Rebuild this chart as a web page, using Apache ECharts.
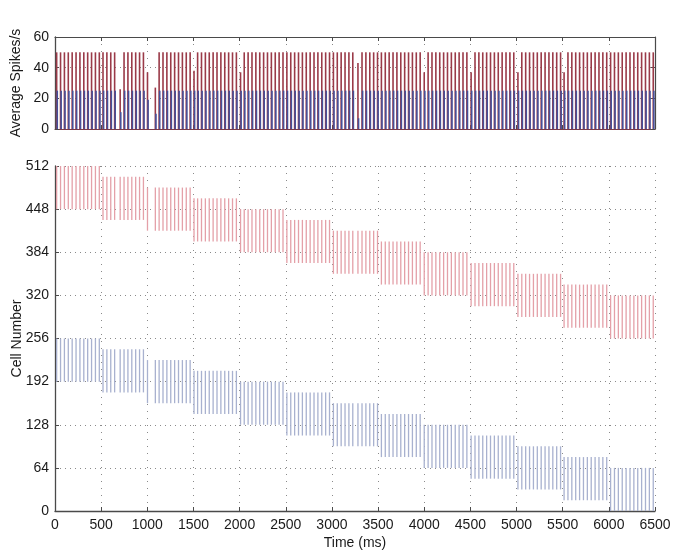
<!DOCTYPE html>
<html><head><meta charset="utf-8">
<script src="https://cdn.jsdelivr.net/npm/echarts@6/dist/echarts.min.js"></script>
<style>html,body{margin:0;padding:0;background:#fff}#c{width:676px;height:552px}</style>
</head><body><div id="c"></div>
<script>
// Spike (bar) times in ms
const spikeTimes = [18,60,102,144,186,228,270,312,354,396,438,480,520,562,604,646,706,748,790,832,874,916,958,1002,1087,1128,1170,1212,1254,1296,1338,1380,1422,1464,1506,1545,1587,1629,1671,1713,1755,1797,1839,1881,1923,1965,2010,2050,2092,2134,2176,2218,2260,2302,2344,2386,2428,2470,2512,2554,2596,2638,2680,2722,2764,2806,2848,2890,2932,2974,3016,3058,3100,3142,3184,3226,3282,3326,3368,3410,3452,3494,3536,3578,3620,3662,3704,3746,3788,3830,3872,3914,3956,4000,4042,4084,4126,4168,4210,4252,4294,4336,4378,4420,4462,4508,4550,4592,4634,4676,4718,4760,4802,4844,4886,4928,4970,5015,5057,5099,5141,5183,5225,5267,5309,5351,5393,5435,5477,5515,5557,5599,5641,5683,5725,5767,5809,5851,5893,5935,5977,6019,6061,6103,6145,6187,6229,6271,6313,6355,6397,6439,6481];
// Average spikes/s of the red population at each spike time
const redRate = [50,50,50,50,50,50,50,50,50,50,50,50,50,50,50,50,26,50,50,50,50,50,50,37,27,50,50,50,50,50,50,50,50,50,38,50,50,50,50,50,50,50,50,50,50,50,37,50,50,50,50,50,50,50,50,50,50,50,50,50,50,50,50,50,50,50,50,50,50,50,50,50,50,50,50,50,43,50,50,50,50,50,50,50,50,50,50,50,50,50,50,50,50,37,50,50,50,50,50,50,50,50,50,50,50,37,50,50,50,50,50,50,50,50,50,50,50,37,50,50,50,50,50,50,50,50,50,50,50,37,50,50,50,50,50,50,50,50,50,50,50,50,50,50,50,50,50,50,50,50,50,50,50];
// Average spikes/s of the blue population at each spike time
const blueRate = [25,25,25,25,25,25,25,25,25,25,25,25,25,25,25,25,11,25,25,25,25,25,25,19,10,25,25,25,25,25,25,25,25,25,25,25,25,25,25,25,25,25,25,25,25,25,25,25,25,25,25,25,25,25,25,25,25,25,25,25,25,25,25,25,25,25,25,25,25,25,25,25,25,25,25,25,7,25,25,25,25,25,25,25,25,25,25,25,25,25,25,25,25,25,25,25,25,25,25,25,25,25,25,25,25,25,25,25,25,25,25,25,25,25,25,25,25,25,25,25,25,25,25,25,25,25,25,25,25,25,25,25,25,25,25,25,25,25,25,25,25,25,25,25,25,25,25,25,25,25,25,25,25];
// Stimulation blocks: start time and active cell ranges
const blockStarts = [0,500,1000,1500,2000,2500,3000,3500,4000,4500,5000,5500,6000];
const redLo  = [448,432,416,400,384,368,352,336,320,304,288,272,256];
const redHi  = [512,496,480,464,448,432,416,400,384,368,352,336,320];
const blueLo = [192,176,160,144,128,112,96,80,64,48,32,16,0];
const blueHi = [256,240,224,208,192,176,160,144,128,112,96,80,64];
// Axis ranges
const timeRange = [0, 6500, 500];
const rateRange = [0, 60, 20];
const cellRange = [0, 512, 64];

function blockOf(t){
  let k = 0;
  for (let i = 0; i < blockStarts.length; i++) if (t >= blockStarts[i]) k = i;
  return k;
}
const redRaster = spikeTimes.map(t => { const k = blockOf(t); return [t, redLo[k], redHi[k]]; });
const blueRaster = spikeTimes.map(t => { const k = blockOf(t); return [t, blueLo[k], blueHi[k]]; });
const redBars = spikeTimes.map((t,i) => [t, redRate[i]]);
const blueBars = spikeTimes.map((t,i) => [t, blueRate[i]]);

function barRender(color, dx, w){
  return function(params, api){
    const p0 = api.coord([api.value(0), 0]);
    const p1 = api.coord([api.value(0), api.value(1)]);
    return {type:'line', shape:{x1:p0[0]+dx, y1:p0[1], x2:p1[0]+dx, y2:p1[1]},
      style:{stroke:color, lineWidth:w}};
  };
}
function rasterRender(color){
  return function(params, api){
    const p0 = api.coord([api.value(0), api.value(1)]);
    const p1 = api.coord([api.value(0), api.value(2)]);
    return {type:'line', shape:{x1:p0[0], y1:p0[1], x2:p1[0], y2:p1[1]},
      style:{stroke:color, lineWidth:1.3}};
  };
}

const FONT = 'Liberation Sans, Arial, Helvetica, sans-serif';
const axisCol = '#4a4a4a';
const dotX = {show:true, lineStyle:{color:'#8a8a8a', width:1, type:[1,6]}};
const dotY = {show:true, lineStyle:{color:'#8a8a8a', width:1, type:[1,4]}};
const fmt = v => String(v);
const lab = {color:'#1a1a1a', fontSize:14, fontFamily:FONT, formatter:fmt};

const chart = echarts.init(document.getElementById('c'), null, {renderer:'canvas'});
chart.setOption({
  animation:false,
  backgroundColor:'#fff',
  grid:[
    {left:55, right:21, top:37, height:92, containLabel:false, outerBoundsMode:'none'},
    {left:55, right:21, top:166, height:345, containLabel:false, outerBoundsMode:'none'}
  ],
  xAxis:[
    {gridIndex:0, type:'value', min:timeRange[0], max:timeRange[1], interval:timeRange[2],
     axisLine:{show:true, onZero:false, lineStyle:{color:'#7a3a48', width:1.2}},
     axisTick:{show:true, inside:true, length:4, lineStyle:{color:axisCol}},
     axisLabel:{show:false}, splitLine:dotX},
    {gridIndex:0, type:'value', position:'top', min:timeRange[0], max:timeRange[1], interval:timeRange[2],
     axisLine:{show:true, onZero:false, lineStyle:{color:axisCol, width:1.2}},
     axisTick:{show:true, inside:true, length:4, lineStyle:{color:axisCol}},
     axisLabel:{show:false}, splitLine:{show:false}},
    {gridIndex:1, type:'value', min:timeRange[0], max:timeRange[1], interval:timeRange[2],
     name:'Time (ms)', nameLocation:'middle', nameGap:25, nameMoveOverlap:false,
     nameTextStyle:{color:'#1a1a1a', fontSize:14, fontFamily:FONT},
     axisLine:{show:true, onZero:false, lineStyle:{color:axisCol, width:1.3}},
     axisTick:{show:true, inside:true, length:4, lineStyle:{color:axisCol}},
     axisLabel:Object.assign({margin:7}, lab), splitLine:dotX}
  ],
  yAxis:[
    {gridIndex:0, type:'value', min:rateRange[0], max:rateRange[1], interval:rateRange[2],
     name:'Average Spikes/s', nameLocation:'middle', nameGap:32, nameRotate:90, nameMoveOverlap:false,
     nameTextStyle:{color:'#1a1a1a', fontSize:14, fontFamily:FONT},
     axisLine:{show:true, onZero:false, lineStyle:{color:axisCol, width:1.3}},
     axisTick:{show:true, inside:true, length:4, lineStyle:{color:axisCol}},
     axisLabel:Object.assign({margin:6}, lab), splitLine:dotY},
    {gridIndex:0, type:'value', position:'right', min:rateRange[0], max:rateRange[1], interval:rateRange[2],
     axisLine:{show:true, onZero:false, lineStyle:{color:axisCol, width:1.2}},
     axisTick:{show:true, inside:true, length:4, lineStyle:{color:axisCol}},
     axisLabel:{show:false}, splitLine:{show:false}},
    {gridIndex:1, type:'value', min:cellRange[0], max:cellRange[1], interval:cellRange[2],
     name:'Cell Number', nameLocation:'middle', nameGap:31, nameRotate:90, nameMoveOverlap:false,
     nameTextStyle:{color:'#1a1a1a', fontSize:14, fontFamily:FONT},
     axisLine:{show:true, onZero:false, lineStyle:{color:axisCol, width:1.3}},
     axisTick:{show:true, inside:true, length:4, lineStyle:{color:axisCol}},
     axisLabel:Object.assign({margin:6}, lab), splitLine:dotY}
  ],
  series:[
    {type:'custom', xAxisIndex:0, yAxisIndex:0, data:redBars, encode:{x:0,y:1},
     renderItem:barRender('#9a3a48', 0, 1.6), clip:true, z:3},
    {type:'custom', xAxisIndex:0, yAxisIndex:0, data:blueBars, encode:{x:0,y:1},
     renderItem:barRender('#46509a', 0.6, 1.6), clip:true, z:4},
    {type:'custom', xAxisIndex:2, yAxisIndex:2, data:redRaster, encode:{x:0,y:[1,2]},
     renderItem:rasterRender('#e4a0a8'), clip:true, z:3},
    {type:'custom', xAxisIndex:2, yAxisIndex:2, data:blueRaster, encode:{x:0,y:[1,2]},
     renderItem:rasterRender('#a8b1cf'), clip:true, z:3}
  ]
});
</script>
</body></html>
